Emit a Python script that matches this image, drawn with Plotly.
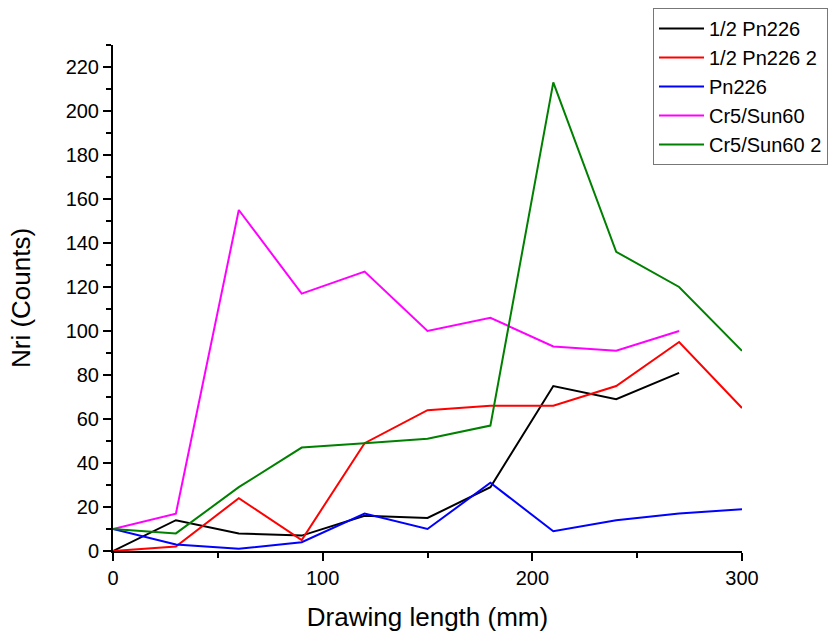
import plotly.graph_objects as go

# Drawing length (mm) at each sampling point
drawing_length = [0, 30, 60, 90, 120, 150, 180, 210, 240, 270, 300]

# Nri counts per sample
half_pn226 = [0, 14, 8, 7, 16, 15, 29, 75, 69, 81]
half_pn226_2 = [0, 2, 24, 5, 49, 64, 66, 66, 75, 95, 65]
pn226 = [10, 3, 1, 4, 17, 10, 31, 9, 14, 17, 19]
cr5_sun60 = [10, 17, 155, 117, 127, 100, 106, 93, 91, 100]
cr5_sun60_2 = [10, 8, 29, 47, 49, 51, 57, 213, 136, 120, 91]

series = [
    ("1/2 Pn226", half_pn226, "#000000"),
    ("1/2 Pn226 2", half_pn226_2, "#ff0000"),
    ("Pn226", pn226, "#0000ff"),
    ("Cr5/Sun60", cr5_sun60, "#ff00ff"),
    ("Cr5/Sun60 2", cr5_sun60_2, "#008000"),
]

FONT = "Liberation Sans, Arial, sans-serif"

fig = go.Figure()
for name, values, color in series:
    fig.add_trace(go.Scatter(
        x=drawing_length[:len(values)],
        y=values,
        mode="lines",
        name=name,
        line=dict(color=color, width=2),
    ))

axis_common = dict(
    showline=True,
    linecolor="black",
    linewidth=2,
    ticks="outside",
    ticklen=8,
    tickwidth=2,
    tickcolor="black",
    showgrid=False,
    zeroline=False,
    tickfont=dict(family=FONT, size=20, color="black"),
    mirror=False,
)

fig.update_xaxes(
    range=[0, 300],
    tick0=0,
    dtick=100,
    minor=dict(ticks="outside", dtick=50, ticklen=5, tickwidth=2, tickcolor="black"),
    title=dict(text="Drawing length (mm)", font=dict(family=FONT, size=26, color="black"), standoff=20),
    **axis_common,
)
fig.update_yaxes(
    range=[0, 230],
    tick0=0,
    dtick=20,
    minor=dict(ticks="outside", dtick=10, ticklen=5, tickwidth=2, tickcolor="black"),
    title=dict(text="Nri (Counts)", font=dict(family=FONT, size=26, color="black"), standoff=28),
    **axis_common,
)

fig.update_layout(
    width=830,
    height=635,
    margin=dict(l=113, r=88, t=45, b=84, autoexpand=False),
    paper_bgcolor="white",
    plot_bgcolor="white",
    font=dict(family=FONT, color="black"),
    legend=dict(
        x=0.8585,
        y=1.073,
        xanchor="left",
        yanchor="top",
        bgcolor="white",
        bordercolor="#777777",
        borderwidth=1,
        font=dict(family=FONT, size=20, color="black"),
        itemwidth=45,
        tracegroupgap=0,
    ),
    showlegend=True,
)

fig.write_html("out.html")
